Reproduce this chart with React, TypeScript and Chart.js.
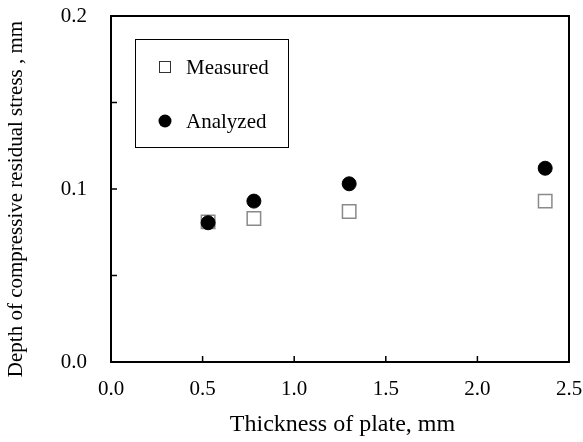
import React, { useEffect, useRef } from 'react';
import { Chart, registerables } from 'chart.js';

Chart.register(...registerables);

const thickness = [0.53, 0.78, 1.3, 2.37];
const measured = [0.081, 0.083, 0.087, 0.093];
const analyzed = [0.0805, 0.093, 0.103, 0.112];
const seriesNames = ['Measured', 'Analyzed'];
const xTitle = 'Thickness of plate, mm';
const yTitle = 'Depth of compressive residual stress , mm';
const xMin = 0;
const xMax = 2.5;
const xStep = 0.5;
const yMin = 0;
const yMax = 0.2;
const yStep = 0.05;
const yLabelStep = 0.1;

const FONT = '"Liberation Serif", "Times New Roman", serif';

const framePlugin = {
  id: 'frame',
  afterDraw(chart: any) {
    const { ctx } = chart;
    const xs = chart.scales.x;
    const ys = chart.scales.y;
    const left = xs.getPixelForValue(xMin);
    const right = xs.getPixelForValue(xMax);
    const bottom = ys.getPixelForValue(yMin);
    const top = ys.getPixelForValue(yMax);
    ctx.save();
    // plot frame
    ctx.strokeStyle = '#000';
    ctx.lineWidth = 2;
    ctx.beginPath();
    ctx.rect(left, top, right - left, bottom - top);
    ctx.stroke();
    // inner tick marks
    ctx.lineWidth = 1.5;
    ctx.beginPath();
    xs.ticks.forEach((t: any) => {
      const px = xs.getPixelForValue(t.value);
      if (px <= left + 1 || px >= right - 1) return;
      ctx.moveTo(px, bottom);
      ctx.lineTo(px, bottom - 6);
    });
    ys.ticks.forEach((t: any) => {
      const py = ys.getPixelForValue(t.value);
      if (py <= top + 1 || py >= bottom - 1) return;
      ctx.moveTo(left, py);
      ctx.lineTo(left + 6, py);
    });
    ctx.stroke();

    // legend box
    ctx.lineWidth = 1;
    ctx.strokeStyle = '#000';
    ctx.strokeRect(135.5, 39.5, 153, 108);
    ctx.font = `21px ${FONT}`;
    ctx.textAlign = 'left';
    ctx.textBaseline = 'middle';
    // measured marker
    ctx.fillStyle = '#fff';
    ctx.fillRect(159.5, 61.5, 11, 11);
    ctx.strokeStyle = '#333';
    ctx.strokeRect(159.5, 61.5, 11, 11);
    ctx.fillStyle = '#000';
    ctx.fillText(seriesNames[0], 186, 68);
    // analyzed marker
    ctx.beginPath();
    ctx.arc(165, 121, 6.5, 0, Math.PI * 2);
    ctx.fill();
    ctx.fillText(seriesNames[1], 186, 122);

    // axis titles
    ctx.textAlign = 'center';
    ctx.font = `24px ${FONT}`;
    ctx.fillText(xTitle, 342.5, 425);
    ctx.save();
    ctx.translate(16.5, 199);
    ctx.rotate(-Math.PI / 2);
    ctx.font = `21px ${FONT}`;
    ctx.fillText(yTitle, 0, 0);
    ctx.restore();
    ctx.restore();
  },
};

export default function App() {
  const ref = useRef<HTMLCanvasElement>(null);
  useEffect(() => {
    if (!ref.current) return;
    const chart = new Chart(ref.current, {
      type: 'scatter',
      data: {
        datasets: [
          {
            label: seriesNames[1],
            data: thickness.map((x, i) => ({ x, y: analyzed[i] })),
            pointStyle: 'circle',
            pointRadius: 7,
            backgroundColor: '#000',
            borderColor: '#000',
            borderWidth: 1,
            order: 0,
          },
          {
            label: seriesNames[0],
            data: thickness.map((x, i) => ({ x, y: measured[i] })),
            pointStyle: 'rect',
            pointRadius: 9.5,
            backgroundColor: '#fff',
            borderColor: '#8a8a8a',
            borderWidth: 1.5,
            order: 1,
          },
        ],
      },
      options: {
        responsive: false,
        animation: false,
        events: [],
        layout: { padding: { top: 16, right: 14, left: 0, bottom: 0 } },
        plugins: { legend: { display: false }, tooltip: { enabled: false } },
        scales: {
          x: {
            type: 'linear',
            min: xMin,
            max: xMax,
            afterFit: (s: any) => { s.height = 80; s.paddingLeft = 0; s.paddingRight = 0; },
            grid: { display: false, drawTicks: false },
            border: { display: false },
            ticks: {
              stepSize: xStep,
              autoSkip: false,
              maxRotation: 0,
              padding: 15,
              color: '#000',
              font: { family: FONT, size: 21 },
              callback: (v: any) => Number(v).toFixed(1),
            },
          },
          y: {
            type: 'linear',
            min: yMin,
            max: yMax,
            afterFit: (s: any) => { s.width = 111; s.paddingTop = 0; s.paddingBottom = 0; },
            grid: { display: false, drawTicks: false },
            border: { display: false },
            ticks: {
              stepSize: yStep,
              autoSkip: false,
              padding: 24,
              color: '#000',
              font: { family: FONT, size: 21 },
              callback: (v: any) => {
                const n = Math.round(Number(v) / yStep);
                const k = Math.round(yLabelStep / yStep);
                return n % k === 0 ? Number(v).toFixed(1) : '';
              },
            },
          },
        },
      },
      plugins: [framePlugin],
    });
    return () => chart.destroy();
  }, []);
  return (
    <div style={{ position: 'absolute', left: 0, top: 0, width: 583, height: 442, background: '#fff' }}>
      <canvas ref={ref} width={583} height={442} style={{ display: 'block' }} />
    </div>
  );
}
